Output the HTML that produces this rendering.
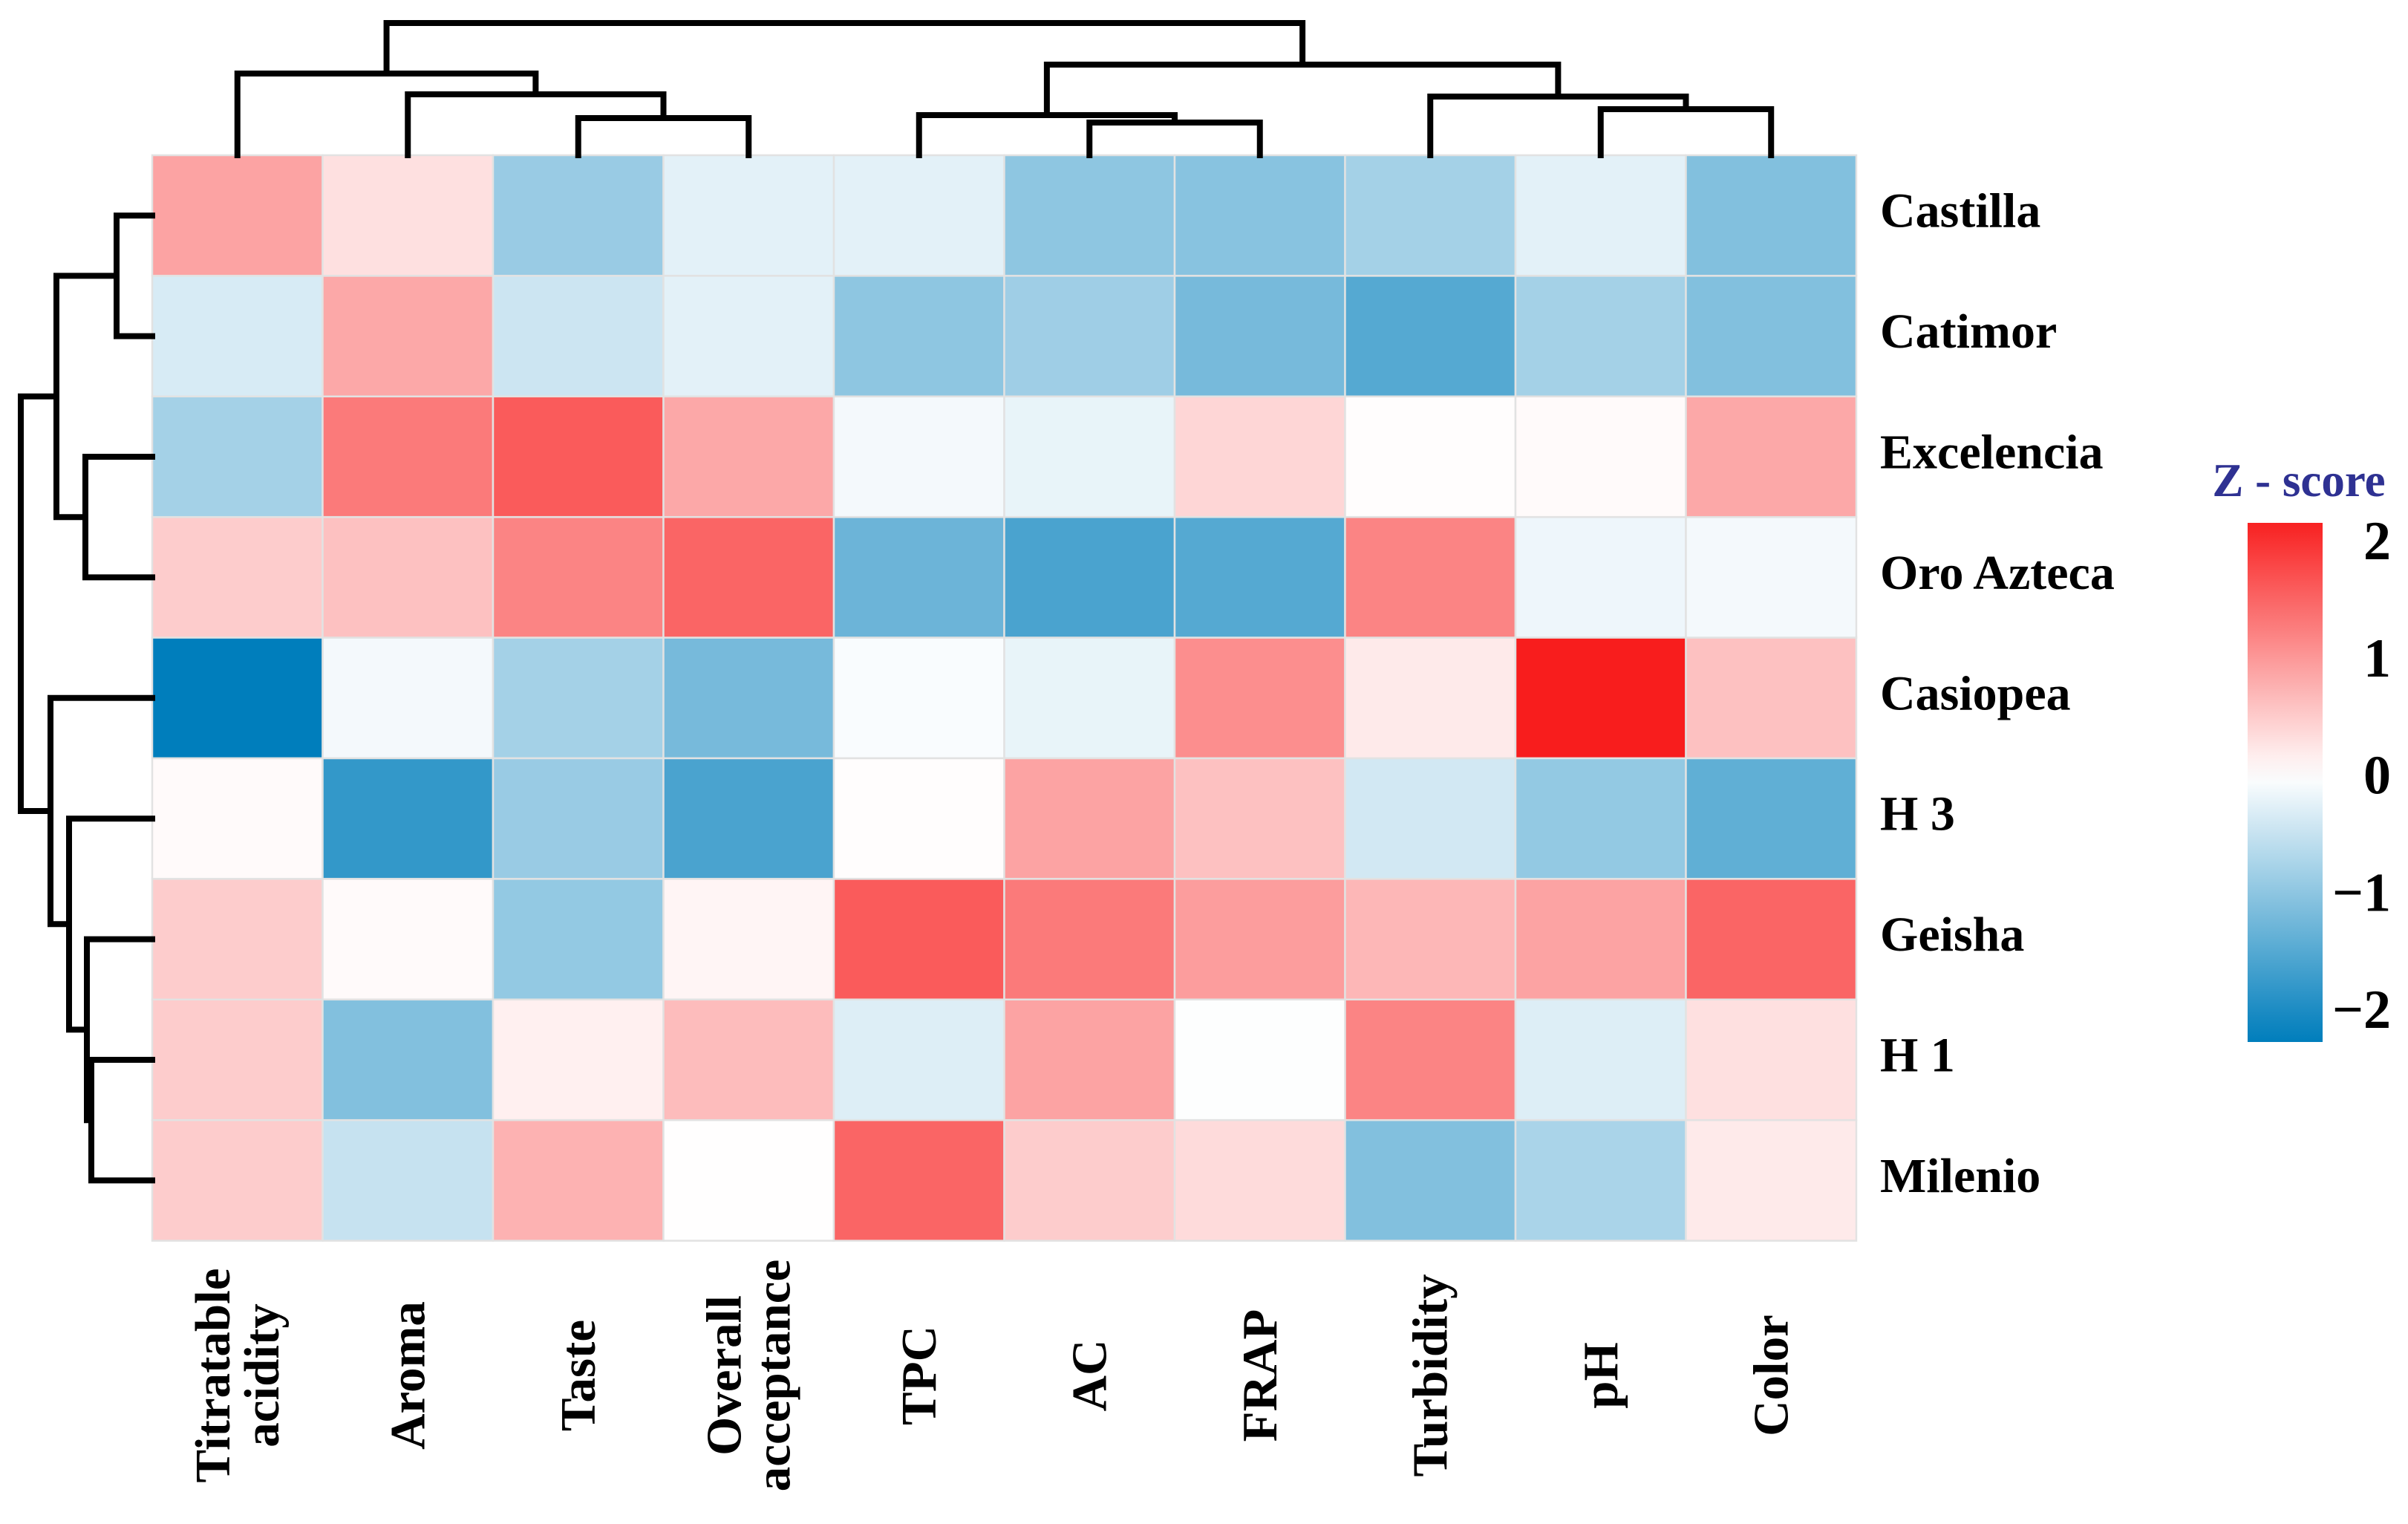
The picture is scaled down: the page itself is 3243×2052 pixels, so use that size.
<!DOCTYPE html>
<html><head><meta charset="utf-8"><style>
html,body{margin:0;padding:0;background:#fff;}
svg{display:block;}
text{font-family:"Liberation Serif",serif;font-weight:bold;}
</style></head><body>
<svg id="chart" width="3243" height="2052" viewBox="0 0 3243 2052" xmlns="http://www.w3.org/2000/svg"></svg>
<script>
const columns = ["Titratable acidity","Aroma","Taste","Overall acceptance","TPC","AC","FRAP","Turbidity","pH","Color"];
const rows = ["Castilla","Catimor","Excelencia","Oro Azteca","Casiopea","H 3","Geisha","H 1","Milenio"];
const valCastilla   = [0.9, 0.3, -0.9, -0.25, -0.25, -1.0, -1.05, -0.8, -0.25, -1.1];
const valCatimor    = [-0.35, 0.85, -0.45, -0.25, -1.0, -0.85, -1.2, -1.5, -0.8, -1.1];
const valExcelencia = [-0.8, 1.3, 1.6, 0.85, -0.1, -0.2, 0.4, 0.02, 0.05, 0.85];
const valOroAzteca  = [0.5, 0.6, 1.2, 1.5, -1.3, -1.6, -1.5, 1.2, -0.15, -0.1];
const valCasiopea   = [-2.3, -0.1, -0.8, -1.2, -0.05, -0.2, 1.1, 0.2, 2.2, 0.6];
const valH3         = [0.05, -1.8, -0.9, -1.6, 0.02, 0.9, 0.6, -0.4, -0.95, -1.4];
const valGeisha     = [0.5, 0.05, -0.95, 0.1, 1.6, 1.3, 0.95, 0.7, 0.9, 1.5];
const valH1         = [0.5, -1.1, 0.15, 0.65, -0.3, 0.9, -0.02, 1.2, -0.3, 0.3];
const valMilenio    = [0.5, -0.5, 0.75, 0.01, 1.5, 0.5, 0.35, -1.1, -0.75, 0.2];
const values = [valCastilla,valCatimor,valExcelencia,valOroAzteca,valCasiopea,valH3,valGeisha,valH1,valMilenio];
const colMerges = [[2,3,50],[1,"m0",82],[0,"m1",110],[5,6,44],[4,"m3",54],[8,9,62],[7,"m5",79],["m4","m6",122],["m2","m7",178]];
const rowMerges = [[0,1,48],[2,3,90],["m0","m1",129],[7,8,82],[6,"m3",88],[5,"m4",112],[4,"m5",137],["m2","m6",177]];
const scaleTicks = [2,1,0,-1,-2];
const tickLabels = ["2","1","0","\u22121","\u22122"];

const NS="http://www.w3.org/2000/svg";
const svg=document.getElementById("chart");
function el(tag,attrs,parent){const e=document.createElementNS(NS,tag);for(const k in attrs)e.setAttribute(k,attrs[k]);(parent||svg).appendChild(e);return e;}

const HX0=205,HY0=209,CW=229.5,RH=162.4,VMAX=2.25;
const xCol=i=>HX0+CW*i; const yRow=j=>HY0+RH*j;
function color(v){const t=Math.max(-1,Math.min(1,v/VMAX));
  if(t>=0){return `rgb(${Math.round(255-(255-248)*t)},${Math.round(255-(255-24)*t)},${Math.round(255-(255-24)*t)})`;}
  const s=-t;return `rgb(${Math.round(255-(255-0)*s)},${Math.round(255-(255-126)*s)},${Math.round(255-(255-188)*s)})`;}

const gCells=el("g",{});


values.forEach((r,j)=>r.forEach((v,i)=>{
  const c=el("rect",{x:xCol(i),y:yRow(j),width:CW,height:RH,fill:color(v),stroke:"#e2e2e2","stroke-width":2.5},gCells);
  
  
}));

rows.forEach((r,j)=>{const t=el("text",{x:2532,y:yRow(j)+RH/2-6,"font-size":66,"dominant-baseline":"central"});t.textContent=r;
  
  });
columns.forEach((c,i)=>{
  const cx=xCol(i)+CW/2, cy=1852;
  const t=el("text",{transform:`translate(${cx},${cy}) rotate(-90)`,"font-size":67,"text-anchor":"middle"});
  
  
  const parts=c.split(" ");
  if(parts.length==1){t.setAttribute("dominant-baseline","central");t.textContent=c;}
  else{parts.forEach((p,k)=>{const ts=el("tspan",{x:0,y:(k==0?-33:33),"dominant-baseline":"central"},t);ts.textContent=p;});}
});

function dendro(merges,leafPos,hToCoord,vertical,name){
  const g=el("g",{stroke:"#000","stroke-width":8,fill:"none","stroke-linecap":"square"});
  
  
  const info={};const get=k=>typeof k==="number"?{p:leafPos(k),h:0}:info[k];
  merges.forEach((m,k)=>{const a=get(m[0]),b=get(m[1]);const H=hToCoord(m[2]);
    const ha=hToCoord(a.h),hb=hToCoord(b.h);
    let d;
    if(vertical) d=`M${a.p},${ha} L${a.p},${H} L${b.p},${H} L${b.p},${hb}`;
    else d=`M${ha},${a.p} L${H},${a.p} L${H},${b.p} L${hb},${b.p}`;
    el("path",{d:d},g);
    info["m"+k]={p:(a.p+b.p)/2,h:m[2]};});
}
dendro(colMerges,i=>xCol(i)+CW/2,h=>HY0-h,true,'column-dendrogram');
dendro(rowMerges,j=>yRow(j)+RH/2,h=>HX0-h,false,'row-dendrogram');

const defs=el("defs",{});
const lg=el("linearGradient",{id:"zg",x1:0,y1:1,x2:0,y2:0},defs);
const CBY0=704,CBY1=1403,CBX=3027,CBW=101;
const vAt=y=>2-(y-729)/((1360-729)/4);
for(let k=0;k<=20;k++){const y=CBY1-(CBY1-CBY0)*k/20;el("stop",{offset:k/20,"stop-color":color(vAt(y))},lg);}
const cb=el("rect",{x:CBX,y:CBY0,width:CBW,height:CBY1-CBY0,fill:"url(#zg)"});


const ty=v=>729+(2-v)*(1360-729)/4;
scaleTicks.forEach((v,k)=>{const t=el("text",{x:3220,y:ty(v),"font-size":74,"text-anchor":"end","dominant-baseline":"central"});t.textContent=tickLabels[k];
  
  });
const tt=el("text",{x:3096,y:647,"font-size":63,"text-anchor":"middle","dominant-baseline":"central",fill:"#2e3192"});tt.textContent="Z - score";


</script>
</body></html>
